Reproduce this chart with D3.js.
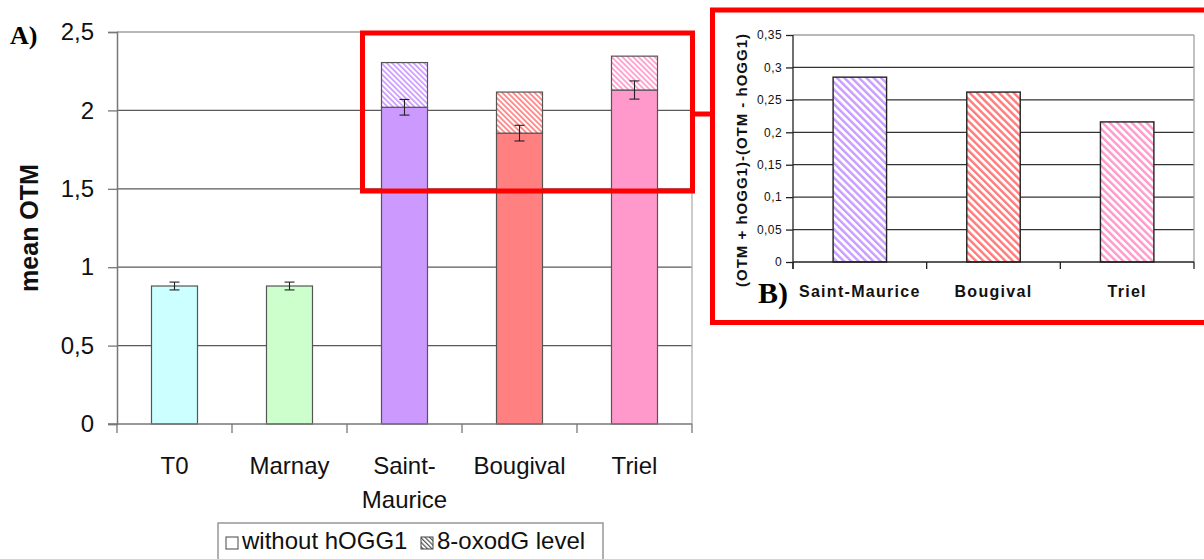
<!DOCTYPE html>
<html>
<head>
<meta charset="utf-8">
<script src="https://cdn.jsdelivr.net/npm/d3@7"></script>
<style>
  html, body { margin: 0; padding: 0; background: #fff; }
  svg { display: block; }
</style>
</head>
<body>
<svg id="chart" width="1204" height="559"></svg>
<script>
// ---- Panel A: mean OTM per site ----
const sitesA = ["T0", "Marnay", "Saint-Maurice", "Bougival", "Triel"];
const siteLabelsA = [["T0"], ["Marnay"], ["Saint-", "Maurice"], ["Bougival"], ["Triel"]];
const withoutHOGG1 = [0.88, 0.88, 2.02, 1.855, 2.13];
const errorA = [0.025, 0.025, 0.05, 0.05, 0.058];
const oxodGLevel = [0, 0, 0.285, 0.262, 0.216];
const colorsA = ["#ccffff", "#ccffcc", "#cc99ff", "#ff8080", "#ff99cc"];
const yTicksA = [0, 0.5, 1, 1.5, 2, 2.5];
const legendLabels = ["without hOGG1", "8-oxodG level"];

// ---- Panel B: (OTM + hOGG1) - (OTM - hOGG1) ----
const sitesB = ["Saint-Maurice", "Bougival", "Triel"];
const diffB = [0.285, 0.262, 0.216];
const colorsB = ["#c99cff", "#ff7a7a", "#ff99cc"];
const yTicksB = [0, 0.05, 0.1, 0.15, 0.2, 0.25, 0.3, 0.35];

const fr = d3.formatLocale({ decimal: ",", thousands: " ", grouping: [3], currency: ["", ""] });
const fmt = fr.format("~g");

const svg = d3.select("#chart");
const defs = svg.append("defs");
const SANS = "'Liberation Sans', Arial, sans-serif";
const SERIF = "'Liberation Serif', 'Times New Roman', serif";

// diagonal stripe fill ("\\" direction)
function stripes(id, color, period, thick) {
  const p = defs.append("pattern")
    .attr("id", id)
    .attr("patternUnits", "userSpaceOnUse")
    .attr("width", period).attr("height", period)
    .attr("patternTransform", "rotate(-45)");
  p.append("rect").attr("width", period).attr("height", period).attr("fill", "#fff");
  p.append("rect").attr("width", thick).attr("height", period).attr("fill", color);
}
colorsA.forEach((c, i) => stripes("hatchA" + i, c, 3.8, 1.7));
colorsB.forEach((c, i) => stripes("hatchB" + i, c, 5.2, 2.4));
stripes("hatchLegend", "#555", 3.2, 1.2);

// ================= Panel A =================
const xA = d3.scaleBand().domain(sitesA).range([117, 692]).paddingInner(0.6).paddingOuter(0.3);
const yA = d3.scaleLinear().domain([0, 2.5]).range([424, 32]);
const gA = svg.append("g");

// grid lines
gA.selectAll("line.grid").data(yTicksA.filter(v => v > 0)).join("line")
  .attr("x1", 117).attr("x2", 692)
  .attr("y1", d => yA(d)).attr("y2", d => yA(d))
  .attr("stroke", d => d === 2.5 ? "#a0a0a0" : "#5a5a5a").attr("stroke-width", 1.3);
// plot area right border
gA.append("line").attr("x1", 692).attr("x2", 692).attr("y1", yA(2.5)).attr("y2", yA(0))
  .attr("stroke", "#b0b0b0").attr("stroke-width", 1.3);

// y axis
const axisLeftA = gA.append("g").attr("transform", "translate(117,0)")
  .call(d3.axisLeft(yA).tickValues(yTicksA).tickFormat(fmt).tickSize(9).tickPadding(14));
axisLeftA.select(".domain").attr("stroke", "#777").attr("stroke-width", 1.5);
axisLeftA.selectAll(".tick line").attr("stroke", "#777").attr("stroke-width", 1.3);
axisLeftA.selectAll("text").attr("font-family", SANS).attr("font-size", 24).attr("fill", "#111");

// bars: base segment
gA.selectAll("rect.base").data(sitesA).join("rect")
  .attr("x", d => xA(d)).attr("width", xA.bandwidth())
  .attr("y", (d, i) => yA(withoutHOGG1[i]))
  .attr("height", (d, i) => yA(0) - yA(withoutHOGG1[i]))
  .attr("fill", (d, i) => colorsA[i]).attr("stroke", "#555").attr("stroke-width", 1.2);
// bars: 8-oxodG segment stacked on top
gA.selectAll("rect.top").data(sitesA.filter((d, i) => oxodGLevel[i] > 0)).join("rect")
  .attr("x", d => xA(d)).attr("width", xA.bandwidth())
  .attr("y", d => { const i = sitesA.indexOf(d); return yA(withoutHOGG1[i] + oxodGLevel[i]); })
  .attr("height", d => { const i = sitesA.indexOf(d); return yA(withoutHOGG1[i]) - yA(withoutHOGG1[i] + oxodGLevel[i]); })
  .attr("fill", d => "url(#hatchA" + sitesA.indexOf(d) + ")")
  .attr("stroke", "#555").attr("stroke-width", 1.2);

// error bars
const eb = gA.selectAll("g.err").data(sitesA).join("g")
  .attr("transform", d => `translate(${xA(d) + xA.bandwidth() / 2},0)`);
eb.append("line").attr("y1", (d, i) => yA(withoutHOGG1[i] - errorA[i])).attr("y2", (d, i) => yA(withoutHOGG1[i] + errorA[i]))
  .attr("stroke", "#222").attr("stroke-width", 1.1);
eb.append("line").attr("x1", -5).attr("x2", 5)
  .attr("y1", (d, i) => yA(withoutHOGG1[i] - errorA[i])).attr("y2", (d, i) => yA(withoutHOGG1[i] - errorA[i]))
  .attr("stroke", "#222").attr("stroke-width", 1.1);
eb.append("line").attr("x1", -5).attr("x2", 5)
  .attr("y1", (d, i) => yA(withoutHOGG1[i] + errorA[i])).attr("y2", (d, i) => yA(withoutHOGG1[i] + errorA[i]))
  .attr("stroke", "#222").attr("stroke-width", 1.1);

// x axis with ticks at category boundaries
gA.append("line").attr("x1", 108).attr("x2", 692).attr("y1", yA(0)).attr("y2", yA(0))
  .attr("stroke", "#777").attr("stroke-width", 1.5);
const boundsA = sitesA.map(d => xA(d) - xA.step() * xA.paddingInner() / 2 - 0).map((v, i) => 117 + i * xA.step());
boundsA.push(692);
gA.selectAll("line.xt").data(boundsA).join("line")
  .attr("x1", d => d).attr("x2", d => d).attr("y1", yA(0)).attr("y2", yA(0) + 9)
  .attr("stroke", "#777").attr("stroke-width", 1.3);
gA.selectAll("text.xl").data(sitesA).join("text")
  .attr("x", d => xA(d) + xA.bandwidth() / 2)
  .attr("y", 474)
  .attr("text-anchor", "middle").attr("font-family", SANS).attr("font-size", 24).attr("fill", "#111")
  .each(function (d, i) {
    d3.select(this).selectAll("tspan").data(siteLabelsA[i]).join("tspan")
      .attr("x", xA(d) + xA.bandwidth() / 2).attr("dy", (t, j) => j === 0 ? 0 : 34).text(t => t);
  });

// y axis title
svg.append("text").attr("transform", "translate(38,228) rotate(-90)")
  .attr("text-anchor", "middle").attr("font-family", SANS).attr("font-size", 25).attr("font-weight", "bold")
  .attr("fill", "#111").text("mean OTM");

// panel tag
svg.append("text").attr("x", 10).attr("y", 44).attr("font-family", SERIF).attr("font-size", 26)
  .attr("font-weight", "bold").attr("fill", "#000").text("A)");

// legend
const lg = svg.append("g");
lg.append("rect").attr("x", 218).attr("y", 523).attr("width", 385).attr("height", 60)
  .attr("fill", "#fff").attr("stroke", "#888").attr("stroke-width", 1.3);
const legendX = [226, 421];
const legendFill = ["#fff", "url(#hatchLegend)"];
legendLabels.forEach((t, i) => {
  lg.append("rect").attr("x", legendX[i]).attr("y", 537).attr("width", 12).attr("height", 12)
    .attr("fill", legendFill[i]).attr("stroke", "#444").attr("stroke-width", 1);
  lg.append("text").attr("x", legendX[i] + 16).attr("y", 549).attr("font-family", SANS).attr("font-size", 24)
    .attr("fill", "#111").text(t);
});

// ================= Panel B =================
const xB = d3.scaleBand().domain(sitesB).range([793, 1194]).paddingInner(0.6).paddingOuter(0.3);
const yB = d3.scaleLinear().domain([0, 0.35]).range([262, 35]);
const gB = svg.append("g");

gB.selectAll("line.grid").data(yTicksB.filter(v => v > 0)).join("line")
  .attr("x1", 793).attr("x2", 1194)
  .attr("y1", d => yB(d)).attr("y2", d => yB(d))
  .attr("stroke", d => d === 0.35 ? "#a0a0a0" : "#333").attr("stroke-width", 1.3);
gB.append("line").attr("x1", 1194).attr("x2", 1194).attr("y1", yB(0.35)).attr("y2", yB(0))
  .attr("stroke", "#a0a0a0").attr("stroke-width", 1.3);

const axisLeftB = gB.append("g").attr("transform", "translate(793,0)")
  .call(d3.axisLeft(yB).tickValues(yTicksB).tickFormat(fmt).tickSize(7).tickPadding(4));
axisLeftB.select(".domain").remove();
axisLeftB.selectAll(".tick line").attr("stroke", "#222").attr("stroke-width", 1.3);
axisLeftB.selectAll("text").attr("font-family", SANS).attr("font-size", 12).attr("letter-spacing", 0.4).attr("fill", "#111");
gB.append("line").attr("x1", 793).attr("x2", 793).attr("y1", yB(0.35)).attr("y2", yB(0) + 7)
  .attr("stroke", "#222").attr("stroke-width", 1.3);

gB.selectAll("rect.bar").data(sitesB).join("rect")
  .attr("x", d => xB(d)).attr("width", xB.bandwidth())
  .attr("y", (d, i) => yB(diffB[i])).attr("height", (d, i) => yB(0) - yB(diffB[i]))
  .attr("fill", (d, i) => "url(#hatchB" + i + ")").attr("stroke", "#222").attr("stroke-width", 1.4);

gB.append("line").attr("x1", 793).attr("x2", 1194).attr("y1", yB(0)).attr("y2", yB(0))
  .attr("stroke", "#222").attr("stroke-width", 1.3);
const boundsB = sitesB.map((d, i) => 793 + i * xB.step());
boundsB.push(1194);
gB.selectAll("line.xt").data(boundsB).join("line")
  .attr("x1", d => d).attr("x2", d => d).attr("y1", yB(0)).attr("y2", yB(0) + 7)
  .attr("stroke", "#222").attr("stroke-width", 1.3);
gB.selectAll("text.xl").data(sitesB).join("text")
  .attr("x", d => xB(d) + xB.bandwidth() / 2).attr("y", 297)
  .attr("text-anchor", "middle").attr("font-family", SANS).attr("font-size", 16).attr("font-weight", "bold")
  .attr("letter-spacing", 1.3).attr("fill", "#111").text(d => d);

svg.append("text").attr("transform", "translate(747,160) rotate(-90)")
  .attr("text-anchor", "middle").attr("font-family", SANS).attr("font-size", 15).attr("font-weight", "bold")
  .attr("letter-spacing", 1).attr("fill", "#111").text("(OTM + hOGG1)-(OTM - hOGG1)");

svg.append("text").attr("x", 758).attr("y", 303).attr("font-family", SERIF).attr("font-size", 30)
  .attr("font-weight", "bold").attr("fill", "#000").text("B)");

// ================= Highlight frames =================
const red = "#ff0000";
svg.append("rect").attr("x", 362.5).attr("y", 33).attr("width", 330).attr("height", 158)
  .attr("fill", "none").attr("stroke", red).attr("stroke-width", 5);
svg.append("line").attr("x1", 692.5).attr("x2", 712.5).attr("y1", 114).attr("y2", 114)
  .attr("stroke", red).attr("stroke-width", 5);
svg.append("rect").attr("x", 712.5).attr("y", 10).attr("width", 520).attr("height", 312.5)
  .attr("fill", "none").attr("stroke", red).attr("stroke-width", 5);
</script>
</body>
</html>
